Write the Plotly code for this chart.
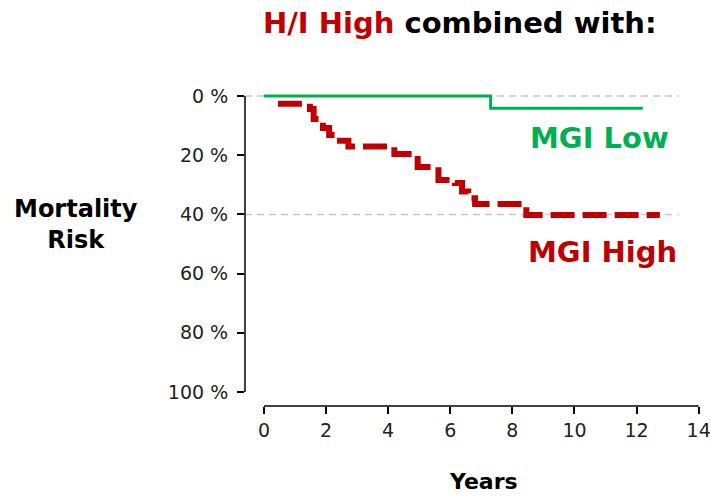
import plotly.graph_objects as go

# ---- data ----
years_ticks = [0, 2, 4, 6, 8, 10, 12, 14]
risk_ticks = [0, 20, 40, 60, 80, 100]
risk_tick_labels = ["0 %", "20 %", "40 %", "60 %", "80 %", "100 %"]

mgi_low_years = [0, 7.3, 12.2]
mgi_low_risk = [0, 4.1, 4.1]

mgi_high_years = [0.45, 1.48, 1.6, 1.9, 2.1, 2.3, 2.72, 4.2, 4.95, 5.62,
                  6.15, 6.38, 6.58, 6.8, 8.45, 12.75]
mgi_high_risk = [2.6, 4.4, 7.8, 10.8, 13.2, 15.1, 17.1, 19.6, 24.0, 28.4,
                 29.4, 32.3, 34.5, 36.5, 40.2, 40.2]

reference_levels = [0, 40]

RED = "#c00000"
GREEN = "#00b050"
FONT = "DejaVu Sans, Liberation Sans, Arial, sans-serif"

fig = go.Figure()

fig.add_trace(go.Scatter(
    x=mgi_high_years, y=mgi_high_risk, mode="lines", line_shape="hv",
    line=dict(color=RED, width=6, dash="24px,8px"), showlegend=False,
    hoverinfo="skip"))
fig.add_trace(go.Scatter(
    x=mgi_low_years, y=mgi_low_risk, mode="lines", line_shape="hv",
    line=dict(color=GREEN, width=3), showlegend=False, hoverinfo="skip"))

shapes = []
for lvl in reference_levels:
    shapes.append(dict(type="line", xref="paper", yref="y", x0=0, x1=0.955,
                       y0=lvl, y1=lvl, layer="below",
                       line=dict(color="#c8c8c8", width=1.5, dash="7px,5px")))
# detached axis lines (base-R style)
shapes.append(dict(type="line", xref="paper", yref="y", x0=0, x1=0,
                   y0=risk_ticks[0], y1=risk_ticks[-1],
                   line=dict(color="black", width=1.5)))
shapes.append(dict(type="line", xref="x", yref="paper", x0=years_ticks[0],
                   x1=years_ticks[-1], y0=0, y1=0,
                   line=dict(color="black", width=1.5)))

annotations = [
    dict(text=f"<b><span style='color:{RED}'>H/I High</span> combined with:</b>",
         xref="paper", yref="paper", x=0.4736, y=1.212, showarrow=False,
         xanchor="center", yanchor="middle",
         font=dict(family=FONT, size=29, color="black")),
    dict(text="<b>MGI Low</b>", xref="x", yref="y", x=10.81, y=14.2,
         showarrow=False, xanchor="center", yanchor="middle",
         font=dict(family=FONT, size=29, color=GREEN)),
    dict(text="<b>MGI High</b>", xref="x", yref="y", x=10.91, y=52.7,
         showarrow=False, xanchor="center", yanchor="middle",
         font=dict(family=FONT, size=29, color=RED)),
    dict(text="<b>Mortality<br>Risk</b>", xref="paper", yref="paper",
         x=-0.372, y=0.573, showarrow=False, xanchor="center",
         yanchor="middle", align="center",
         font=dict(family=FONT, size=24, color="black")),
    dict(text="<b>Years</b>", xref="x", yref="paper", x=7.08, y=-0.2405,
         showarrow=False, xanchor="center", yanchor="middle",
         font=dict(family=FONT, size=22, color="black")),
]

fig.update_layout(
    width=711, height=496,
    margin=dict(l=245, r=12, t=90, b=90),
    paper_bgcolor="white", plot_bgcolor="white",
    showlegend=False,
    shapes=shapes, annotations=annotations,
    font=dict(family=FONT, size=19, color="#222222"),
    xaxis=dict(range=[-0.61, 14.01], tickvals=years_ticks, automargin=False,
               ticks="outside", ticklen=7, tickwidth=1.5, tickcolor="black",
               showgrid=False, zeroline=False, showline=False,
               tickfont=dict(family=FONT, size=19, color="#222222")),
    yaxis=dict(range=[104.73, -2.03], tickvals=risk_ticks, automargin=False,
               ticktext=risk_tick_labels, ticklabelstandoff=5,
               ticks="outside", ticklen=7, tickwidth=1.5, tickcolor="black",
               showgrid=False, zeroline=False, showline=False,
               tickfont=dict(family=FONT, size=19, color="#222222")),
)

fig.write_html("out.html", config={"displayModeBar": False},
               post_script="document.body.style.margin='0';")
